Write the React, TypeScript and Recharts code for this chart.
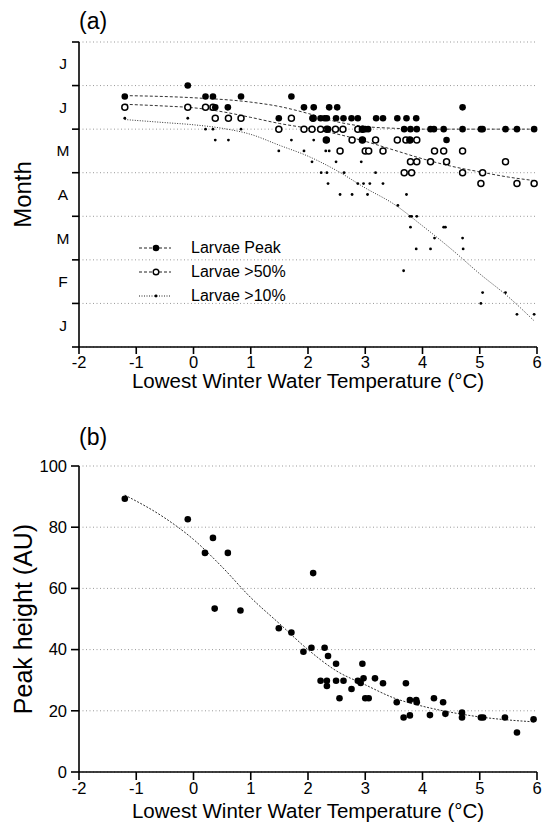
import React from 'react';
import {
  ComposedChart,
  Scatter,
  Line,
  XAxis,
  YAxis,
  CartesianGrid,
  Label,
} from 'recharts';

// month letters from the bottom of panel (a) upward (Jan .. Jul)
const monthLetters = ['J', 'F', 'M', 'A', 'M', 'J', 'J'];
const monthTicks = [0, 1, 2, 3, 4, 5, 6, 7];
const tempTicks = [-2, -1, 0, 1, 2, 3, 4, 5, 6];
const heightTicks = [0, 20, 40, 60, 80, 100];

// [lowest winter temperature, month] for each site
const peakPoints = [
  [-0.1, 6.0],
  [-1.2, 5.75], [0.21, 5.75], [0.34, 5.75], [0.83, 5.75], [1.71, 5.75],
  [0.38, 5.5], [0.6, 5.5], [1.93, 5.5], [2.1, 5.5], [2.37, 5.5], [2.51, 5.5], [4.7, 5.5],
  [1.49, 5.25], [2.08, 5.25], [2.22, 5.25], [2.29, 5.25], [2.33, 5.25], [2.49, 5.25],
  [2.62, 5.25], [2.76, 5.25], [2.87, 5.25], [3.19, 5.25], [3.31, 5.25], [3.56, 5.25],
  [3.72, 5.25], [3.89, 5.25],
  [2.35, 5.0], [2.96, 5.0], [3.0, 5.0], [3.05, 5.0], [3.68, 5.0], [3.79, 5.0], [3.9, 5.0],
  [4.14, 5.0], [4.2, 5.0], [4.37, 5.0], [4.7, 5.0], [5.02, 5.0], [5.05, 5.0], [5.45, 5.0],
  [5.65, 5.0], [5.95, 5.0],
  [2.32, 4.75], [2.95, 4.75], [3.78, 4.75], [4.42, 4.75],
];

const half50Points = [
  [-1.2, 5.5], [-0.1, 5.5], [0.21, 5.5], [0.34, 5.5],
  [0.38, 5.25], [0.61, 5.25], [0.83, 5.25], [1.71, 5.25], [2.09, 5.25],
  [1.49, 5.0], [1.93, 5.0], [2.07, 5.0], [2.22, 5.0], [2.33, 5.0], [2.48, 5.0],
  [2.61, 5.0], [2.87, 5.0], [2.95, 5.0],
  [2.32, 4.75], [2.77, 4.75], [2.95, 4.75], [3.18, 4.75], [3.56, 4.75], [3.71, 4.75],
  [3.78, 4.75], [3.9, 4.75],
  [2.56, 4.5], [3.0, 4.5], [3.06, 4.5], [3.31, 4.5], [4.21, 4.5], [4.37, 4.5], [4.7, 4.5],
  [3.79, 4.25], [3.9, 4.25], [4.14, 4.25], [4.42, 4.25], [5.45, 4.25],
  [3.68, 4.0], [3.81, 4.0], [4.7, 4.0], [5.05, 4.0],
  [5.02, 3.75], [5.65, 3.75], [5.95, 3.75],
];

const tenPctPoints = [
  [-1.2, 5.25], [-0.1, 5.25],
  [0.21, 5.0], [0.34, 5.0], [0.83, 5.0],
  [0.38, 4.75], [0.61, 4.75], [1.71, 4.75], [2.1, 4.75],
  [1.49, 4.5], [1.93, 4.5], [2.31, 4.5], [2.37, 4.5],
  [2.07, 4.25], [2.49, 4.25], [2.93, 4.25],
  [2.23, 4.0], [2.33, 4.0], [2.63, 4.0], [3.18, 4.0],
  [2.35, 3.75], [2.87, 3.75], [2.97, 3.75], [3.08, 3.75], [3.31, 3.75],
  [2.56, 3.5], [2.77, 3.5], [3.04, 3.5], [3.72, 3.5],
  [3.57, 3.25],
  [3.78, 3.0], [3.81, 3.0], [3.9, 3.0],
  [3.79, 2.75], [4.37, 2.75], [4.4, 2.75],
  [4.21, 2.5], [4.7, 2.5],
  [3.89, 2.25], [4.14, 2.25], [4.71, 2.25],
  [3.67, 1.75],
  [5.05, 1.25], [5.45, 1.25],
  [5.02, 1.0],
  [5.65, 0.75], [5.95, 0.75],
];

const peakFit = [
  [-1.2, 5.77], [0, 5.72], [1, 5.62], [1.5, 5.52], [2, 5.36], [2.5, 5.17],
  [3, 5.06], [3.5, 5.02], [4, 5.0], [5, 5.0], [5.95, 5.0],
];
const half50Fit = [
  [-1.2, 5.57], [-0.5, 5.53], [0, 5.49], [0.5, 5.4], [1, 5.27], [1.5, 5.13],
  [2, 5.02], [2.5, 4.89], [3, 4.72], [3.5, 4.52], [4, 4.32], [4.5, 4.15],
  [5, 4.02], [5.5, 3.9], [5.95, 3.82],
];
const tenPctFit = [
  [-1.2, 5.22], [-0.5, 5.15], [0, 5.1], [0.5, 5.02], [1, 4.88], [1.5, 4.63],
  [2, 4.38], [2.5, 4.05], [3, 3.65], [3.5, 3.28], [4, 2.78], [4.5, 2.25],
  [5, 1.68], [5.5, 1.15], [5.95, 0.6],
];

// [lowest winter temperature, peak height]
const heightPoints = [
  [-1.2, 89.3], [-0.1, 82.6], [0.2, 71.6], [0.34, 76.5], [0.37, 53.4], [0.6, 71.6],
  [0.82, 52.8], [1.49, 47], [1.71, 45.6], [1.92, 39.3], [2.06, 40.6], [2.09, 65],
  [2.22, 29.8], [2.29, 40.6], [2.33, 29.8], [2.33, 28.1], [2.35, 37.9], [2.49, 35.4],
  [2.49, 29.8], [2.55, 24.1], [2.62, 29.8], [2.76, 27.1], [2.87, 29.8], [2.92, 29.1],
  [2.95, 35.4], [2.97, 30.6], [3.0, 24.1], [3.06, 24.1], [3.17, 30.6], [3.31, 29.0],
  [3.55, 22.8], [3.67, 17.8], [3.71, 29.0], [3.78, 23.5], [3.78, 18.5], [3.89, 23.5],
  [3.9, 22.8], [4.13, 18.6], [4.2, 24.1], [4.36, 22.8], [4.4, 19], [4.69, 19.4],
  [4.69, 17.8], [5.02, 17.8], [5.06, 17.8], [5.44, 17.8], [5.65, 12.9], [5.94, 17.2],
];
const heightFit = [
  [-1.2, 90.5], [-0.5, 83], [0, 76], [0.5, 67], [1, 57], [1.5, 48.5], [2, 40],
  [2.5, 33], [3, 28.5], [3.5, 24.2], [4, 21.5], [4.5, 19.5], [5, 18], [5.5, 17],
  [5.94, 16.4],
];

const FONT = '"Liberation Sans", Arial, Helvetica, sans-serif';
const W = 543;
const A_TOP = 42;
const A_BOTTOM = 347;
const HALF_MONTH = (A_BOTTOM - A_TOP) / 14;

const toRows = (pts: number[][], key: string) => pts.map(([t, v]) => ({ t, [key]: v }));

const FilledDot = (p: any) => <circle cx={p.cx} cy={p.cy} r={3.3} fill="#000" />;
const OpenDot = (p: any) => (
  <circle cx={p.cx} cy={p.cy} r={3} fill="#fff" stroke="#000" strokeWidth={1.5} />
);
const SmallDot = (p: any) => <circle cx={p.cx} cy={p.cy} r={1.4} fill="#000" />;

// month letter sits halfway between two tick marks
const MonthTick = (p: any) => {
  const i = p.payload.value;
  if (i >= monthLetters.length) return null;
  return (
    <text x={p.x - 7} y={p.y - HALF_MONTH} dy={5.5} textAnchor="middle" fontSize={15.5} fill="#000">
      {monthLetters[i]}
    </text>
  );
};

const legendItems = [
  { label: 'Larvae Peak', dash: '3 2', marker: 'filled' },
  { label: 'Larvae >50%', dash: '3 2', marker: 'open' },
  { label: 'Larvae >10%', dash: '1 1.5', marker: 'small' },
];

const LarvaeLegend = () => (
  <div style={{ position: 'absolute', left: 136, top: 236, zIndex: 3 }}>
    {legendItems.map((it) => (
      <div key={it.label} style={{ display: 'flex', alignItems: 'center', height: 24 }}>
        <svg width={40} height={24}>
          <line x1={3} y1={12} x2={35} y2={12} stroke="#222" strokeWidth={1} strokeDasharray={it.dash} />
          {it.marker === 'filled' && <circle cx={20} cy={12} r={3.3} fill="#000" />}
          {it.marker === 'open' && (
            <circle cx={20} cy={12} r={2.8} fill="#fff" stroke="#000" strokeWidth={1.4} />
          )}
          {it.marker === 'small' && <circle cx={20} cy={12} r={1.4} fill="#000" />}
        </svg>
        <span style={{ marginLeft: 15, fontSize: 16, color: '#000', lineHeight: '24px' }}>{it.label}</span>
      </div>
    ))}
  </div>
);

const axisStroke = { stroke: '#000', strokeWidth: 1.6 };

export default function App() {
  return (
    <div style={{ position: 'absolute', left: 0, top: 0, width: W, height: 829, fontFamily: FONT, background: '#fff' }}>
      <svg width={W} height={829} style={{ position: 'absolute', left: 0, top: 0, pointerEvents: 'none', zIndex: 2 }}>
        <text x={79} y={29} fontSize={23} fill="#000" fontFamily={FONT}>(a)</text>
        <text x={79} y={445} fontSize={23} fill="#000" fontFamily={FONT}>(b)</text>
      </svg>

      <div style={{ position: 'absolute', left: 0, top: 0 }}>
        <ComposedChart width={W} height={415} margin={{ top: A_TOP, right: 6, bottom: 18, left: 0 }}>
          <CartesianGrid vertical={false} stroke="#999" strokeDasharray="1 2.5" />
          <XAxis
            type="number"
            dataKey="t"
            domain={[-2, 6]}
            ticks={tempTicks}
            height={50}
            tickSize={7}
            axisLine={axisStroke}
            tickLine={axisStroke}
            tick={{ fill: '#000', fontSize: 16.5 }}
          >
            <Label value="Lowest Winter Water Temperature (°C)" position="insideBottom" offset={9} fill="#000" fontSize={20.5} />
          </XAxis>
          <YAxis
            type="number"
            dataKey="m"
            domain={[0, 7]}
            ticks={monthTicks}
            width={79}
            tickSize={7}
            axisLine={axisStroke}
            tickLine={axisStroke}
            tick={<MonthTick />}
          >
            <Label value="Month" angle={-90} position="insideLeft" offset={22} fill="#000" fontSize={24} style={{ textAnchor: 'middle' }} />
          </YAxis>
          <Line data={toRows(peakFit, 'm')} dataKey="m" type="monotone" stroke="#333" strokeWidth={1} strokeDasharray="3 2" dot={false} activeDot={false} isAnimationActive={false} />
          <Line data={toRows(half50Fit, 'm')} dataKey="m" type="monotone" stroke="#333" strokeWidth={1} strokeDasharray="3 2" dot={false} activeDot={false} isAnimationActive={false} />
          <Line data={toRows(tenPctFit, 'm')} dataKey="m" type="monotone" stroke="#333" strokeWidth={1} strokeDasharray="1 1.5" dot={false} activeDot={false} isAnimationActive={false} />
          <Scatter name="Larvae >10%" data={toRows(tenPctPoints, 'm')} shape={SmallDot} isAnimationActive={false} />
          <Scatter name="Larvae >50%" data={toRows(half50Points, 'm')} shape={OpenDot} isAnimationActive={false} />
          <Scatter name="Larvae Peak" data={toRows(peakPoints, 'm')} shape={FilledDot} isAnimationActive={false} />
        </ComposedChart>
      </div>
      <LarvaeLegend />

      <div style={{ position: 'absolute', left: 0, top: 415 }}>
        <ComposedChart width={W} height={414} margin={{ top: 51, right: 6, bottom: 7, left: 0 }}>
          <CartesianGrid vertical={false} stroke="#999" strokeDasharray="1 2.5" />
          <XAxis
            type="number"
            dataKey="t"
            domain={[-2, 6]}
            ticks={tempTicks}
            height={50}
            tickSize={8}
            axisLine={axisStroke}
            tickLine={axisStroke}
            tick={{ fill: '#000', fontSize: 16.5 }}
          >
            <Label value="Lowest Winter Water Temperature (°C)" position="insideBottom" offset={4} fill="#000" fontSize={20.5} />
          </XAxis>
          <YAxis
            type="number"
            dataKey="v"
            domain={[0, 100]}
            ticks={heightTicks}
            width={79}
            tickSize={8}
            tickMargin={4}
            axisLine={axisStroke}
            tickLine={axisStroke}
            tick={{ fill: '#000', fontSize: 16.5 }}
          >
            <Label value="Peak height (AU)" angle={-90} position="insideLeft" offset={23} fill="#000" fontSize={25} style={{ textAnchor: 'middle' }} />
          </YAxis>
          <Line data={toRows(heightFit, 'v')} dataKey="v" type="monotone" stroke="#333" strokeWidth={1} strokeDasharray="2 1.5" dot={false} activeDot={false} isAnimationActive={false} />
          <Scatter data={toRows(heightPoints, 'v')} shape={FilledDot} isAnimationActive={false} />
        </ComposedChart>
      </div>
    </div>
  );
}
